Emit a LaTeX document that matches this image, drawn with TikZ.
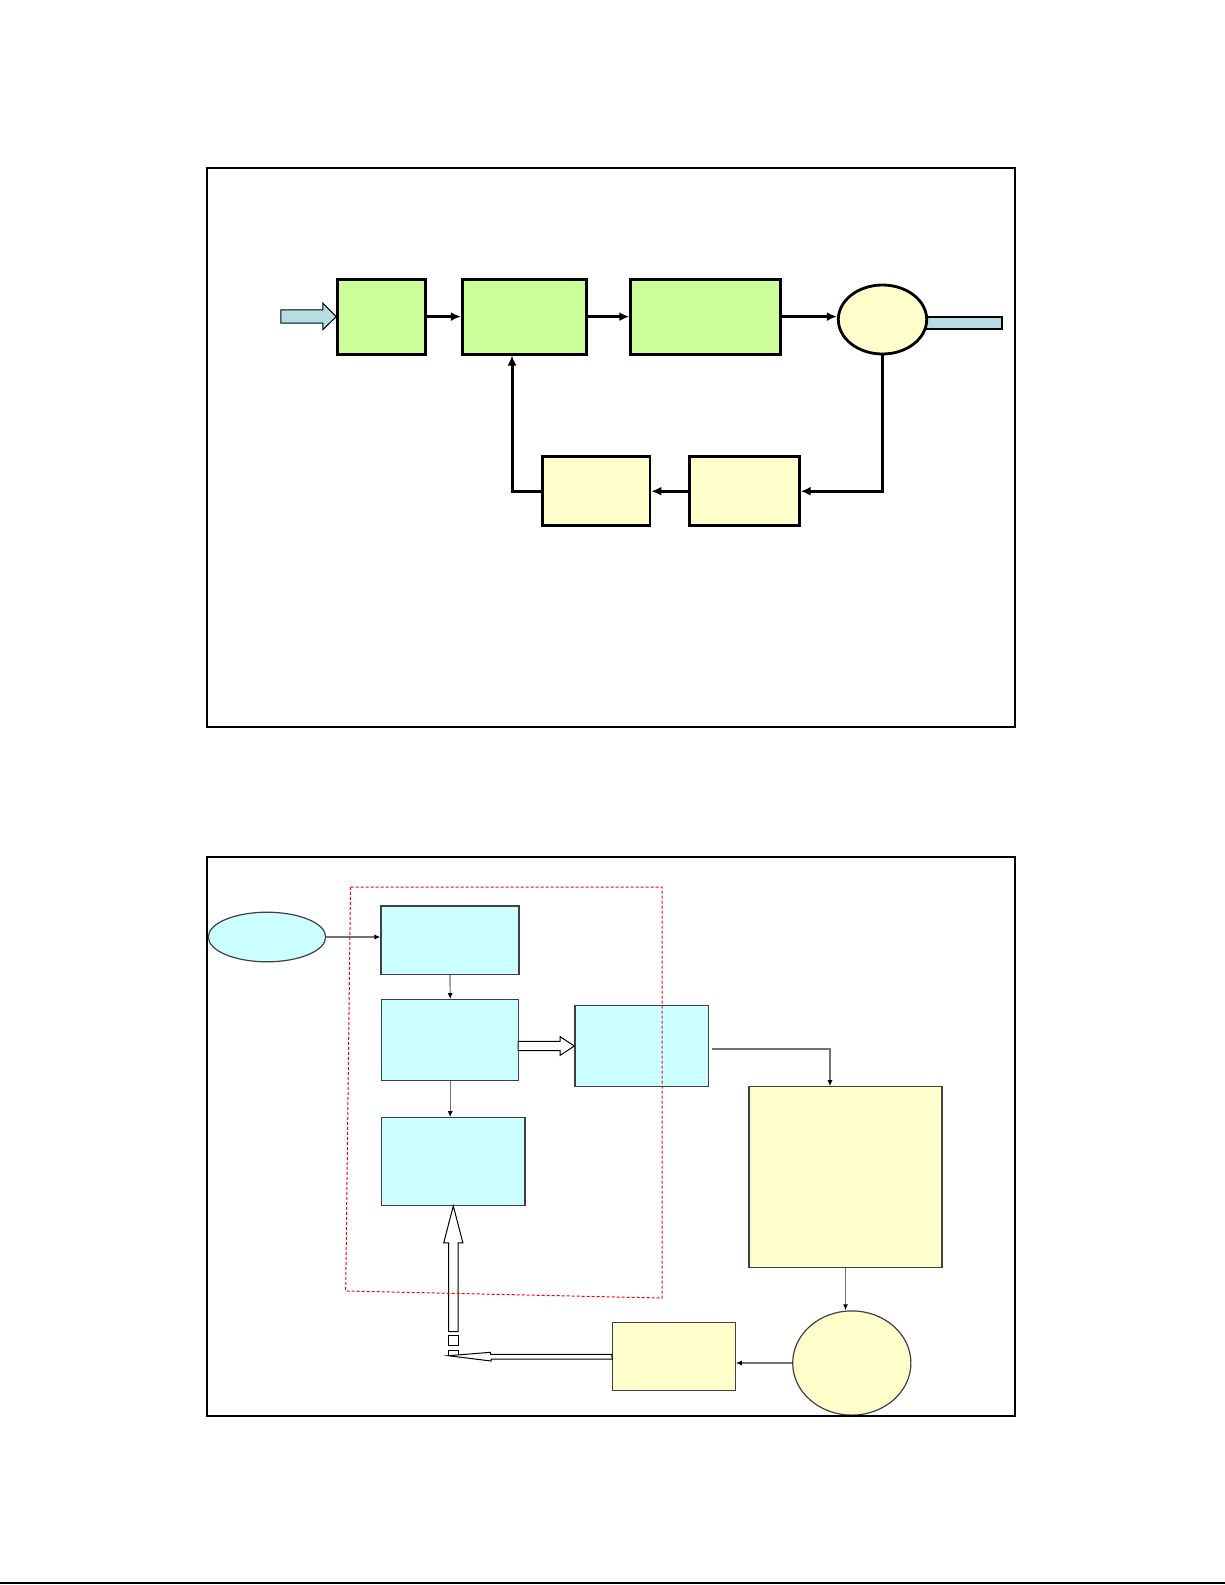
\documentclass[tikz,border=0pt]{standalone}
\usepackage{tikz}
\usetikzlibrary{shapes.geometric, arrows.meta, calc}

\definecolor{blockgreen}{RGB}{204,255,153}
\definecolor{blockyellow}{RGB}{255,255,204}
\definecolor{blockcyan}{RGB}{204,255,255}
\definecolor{barblue}{RGB}{182,221,226}

\begin{document}
\begin{tikzpicture}[x=0.5pt, y=-0.5pt,
    blk/.style={draw, line width=1.4pt, inner sep=0pt},
    gbox/.style={blk, fill=blockgreen},
    ybox/.style={blk, fill=blockyellow},
    sig/.style={-{Latex[length=5pt,width=4.5pt]}, line width=1.3pt},
    cbox/.style={draw=black!75, line width=0.6pt, inner sep=0pt, fill=blockcyan},
    lbox/.style={draw=black!75, line width=0.6pt, inner sep=0pt, fill=blockyellow},
    flow/.style={-{Latex[length=3pt,width=2.6pt,color=black]}, draw=black!55, line width=0.6pt},
    hollow/.style={draw, fill=white, line width=0.5pt},
    panel/.style={line width=1pt},
    grp/.style={draw=red, line width=0.5pt, dash pattern=on 1.5pt off 1pt}]
    \useasboundingbox (0,0) rectangle (1225,1585);

    % upper loop
    \node[gbox, minimum width=44pt, minimum height=37.5pt] (ctrl) at (381.7,316.6) {};
    \node[gbox, minimum width=62.2pt, minimum height=37.5pt] (drive) at (524.5,316.6) {};
    \node[gbox, minimum width=74.8pt, minimum height=37.5pt] (proc) at (705.5,316.6) {};
    \node[draw, line width=1pt, fill=barblue, inner sep=0pt, minimum width=39pt, minimum height=6.3pt] (outbar) at (962.5,323) {};
    \node[ybox, ellipse, minimum width=44.2pt, minimum height=34.5pt] (out) at (882.5,319.5) {};
    \node[ybox, minimum width=53.6pt, minimum height=34.5pt] (fbk) at (596.3,491.2) {};
    \node[ybox, minimum width=55pt, minimum height=34.5pt] (sense) at (744.3,491.2) {};

    \draw[fill=barblue, line width=0.5pt] ($(ctrl.west)+(-55.4,-6.7)$) -- ++(42,0) -- ++(0,-6.7)
        -- (ctrl.west) -- ++(-13.4,13) -- ++(0,-6.4) -- ++(-42,0) -- cycle;
    \draw[sig] (ctrl.east) -- (drive.west);
    \draw[sig] (drive.east) -- (proc.west);
    \draw[sig] (proc.east) -- (proc.east -| out.west);
    \draw[sig, line width=1.7pt] (out.south) |- (sense.east);
    \draw[sig] (sense.west) -- (fbk.east);
    \draw[sig, line width=1.5pt] (fbk.west) -| ($(drive.south)+(-12.5,0)$);

    % lower flow
    \node[cbox, ellipse, minimum width=58.7pt, minimum height=24.8pt] (src) at (267,937) {};
    \node[cbox, minimum width=69pt, minimum height=34.2pt] (s1) at (450,940.2) {};
    \node[cbox, minimum width=68.5pt, minimum height=40.3pt] (s2) at (450.2,1040) {};
    \node[cbox, minimum width=71.6pt, minimum height=43.8pt] (s3) at (453.3,1161.5) {};
    \node[cbox, minimum width=66.8pt, minimum height=40.7pt] (s4) at (641.8,1046) {};
    \node[lbox, minimum width=96.5pt, minimum height=90.3pt] (big) at (845.5,1177) {};
    \node[lbox, ellipse, minimum width=59.1pt, minimum height=52.1pt] (hub) at (851.8,1363) {};
    \node[lbox, minimum width=61.5pt, minimum height=34.2pt] (ret) at (673.8,1356.5) {};
    \node[draw, line width=0.5pt, inner sep=0pt, minimum width=5pt, minimum height=4.8pt] (sqa) at (453.3,1340.5) {};
    \node[draw, line width=0.5pt, inner sep=0pt, minimum width=5pt, minimum height=2.5pt] (sqb) at (453.3,1352.5) {};
    \coordinate (bend) at (448.3,1355.7);

    \draw[flow] (src.east) -- (src.east -| s1.west);
    \draw[flow] (s1.south) -- (s2.north);
    \draw[flow] (s2.south) -- (s2.south |- s3.north);
    \draw[hollow] ($(s4.west)+(-56.3,-4.7)$) -- ++(42,0) -- ++(0,-4.6) -- (s4.west)
        -- ++(-14.3,9.3) -- ++(0,-4.6) -- ++(-42,0) -- cycle;
    \draw[flow] ($(s4.east)+(3,3)$) -| ($(big.north)+(-15.5,0)$);
    \draw[flow] (big.south) -- (big.south |- hub.north);
    \draw[flow] (hub.west) -- (hub.west -| ret.east);
    \draw[hollow] ($(ret.west)+(0,-2.2)$) -- ++(-121.3,0) -- ++(0,-2) -- (bend)
        -- ++(42.7,5.3) -- ++(0,-2) -- ++(121.3,0) -- cycle;
    \draw[hollow] ($(s3.south)+(-4.8,125.7)$) -- ++(0,-88.7) -- ++(-4.8,0) -- (s3.south)
        -- ++(9.6,37) -- ++(-4.8,0) -- ++(0,88.7) -- cycle;
    \draw[grp] (350.5,887) -- (662,887) -- (662,1298) -- (345.7,1291) -- cycle;

    % panels
    \draw[panel] (207.3,167.7) rectangle (1014.7,726.7);
    \draw[panel] (207.3,856.7) rectangle (1014.7,1416);
    \draw[panel] (0,1583) -- (1225,1583);
\end{tikzpicture}
\end{document}
